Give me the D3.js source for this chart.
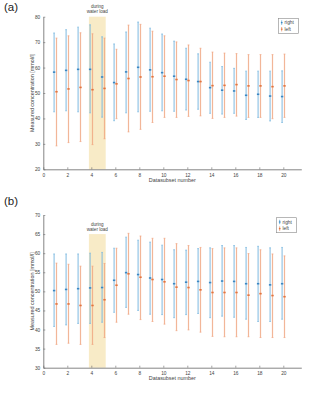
<!DOCTYPE html>
<html>
<head>
<meta charset="utf-8">
<script src="https://d3js.org/d3.v7.min.js"></script>
<style>
  body { margin: 0; background: #fff; }
  svg { display: block; font-family: "Liberation Sans", Arial, sans-serif; }
</style>
</head>
<body>
<script>
// datasubset numbers
const subsets = d3.range(1, 21);

// panel (a) values [mmol/l]
const aRightMean = [58.2, 58.9, 59.3, 59.3, 56.3, 54.1, 58.3, 60.1, 59.1, 58.0, 56.6, 55.4, 54.5, 52.1, 51.1, 50.8, 49.1, 49.5, 48.8, 48.6];
const aRightHigh = [73.6, 74.9, 75.9, 76.8, 72.1, 69.3, 74.0, 77.9, 75.5, 73.2, 70.4, 67.6, 65.4, 62.1, 60.4, 59.7, 58.6, 58.6, 58.6, 58.7];
const aRightLow  = [42.6, 43.0, 42.6, 42.2, 40.5, 39.1, 42.2, 42.6, 42.8, 43.0, 42.8, 43.3, 43.6, 42.0, 41.7, 42.0, 39.6, 40.4, 39.0, 38.4];
const aLeftMean  = [50.5, 51.6, 52.2, 51.3, 51.8, 53.6, 55.7, 56.3, 56.4, 56.6, 55.3, 54.9, 54.5, 52.9, 53.0, 53.3, 52.8, 52.8, 52.5, 52.8];
const aLeftHigh  = [71.6, 72.5, 73.7, 73.3, 71.6, 67.2, 76.7, 77.0, 74.3, 72.5, 70.1, 68.9, 67.6, 66.1, 65.7, 65.5, 65.1, 65.1, 65.1, 65.3];
const aLeftLow   = [29.2, 30.5, 30.9, 29.7, 32.0, 39.9, 34.7, 35.7, 38.4, 40.4, 40.4, 40.8, 41.0, 40.0, 40.4, 40.9, 40.4, 40.4, 39.9, 40.4];

// panel (b) values [mmol/l]
const bRightMean = [50.2, 50.5, 50.7, 50.9, 51.0, 52.9, 54.9, 54.4, 53.5, 53.1, 52.0, 52.4, 52.6, 52.3, 52.7, 52.6, 52.0, 52.0, 51.7, 52.0];
const bRightHigh = [59.8, 59.8, 59.8, 60.0, 60.2, 61.3, 64.2, 63.4, 62.9, 62.1, 60.9, 60.8, 61.2, 61.4, 62.0, 62.0, 61.5, 61.8, 61.4, 61.5];
const bRightLow  = [40.8, 41.2, 41.6, 41.6, 41.9, 44.5, 45.8, 45.0, 44.0, 43.9, 43.1, 43.9, 44.2, 43.1, 43.5, 43.2, 42.7, 42.1, 42.1, 42.7];
const bLeftMean  = [46.7, 46.7, 46.3, 46.3, 47.8, 51.6, 54.6, 53.7, 53.1, 52.5, 51.1, 51.0, 50.4, 49.7, 49.7, 49.7, 49.0, 49.4, 48.9, 48.6];
const bLeftHigh  = [57.4, 57.1, 56.6, 56.6, 57.3, 61.3, 65.2, 64.5, 63.9, 63.9, 62.5, 62.0, 61.5, 61.2, 61.4, 61.4, 59.9, 60.9, 59.8, 59.3];
const bLeftLow   = [36.1, 36.4, 36.1, 36.1, 37.9, 41.9, 44.0, 42.6, 42.1, 41.4, 39.7, 39.9, 39.3, 38.2, 38.1, 38.1, 38.1, 37.9, 37.9, 37.9];

const xTicks = d3.range(0, 21, 2);
const aYTicks = d3.range(20, 81, 10);
const bYTicks = d3.range(30, 71, 5);
const waterLoad = [3.8, 5.2];
const legendLabels = ["right", "left"];

const W = 332, H = 400;
const blue = "#7ab8e0", blueDark = "#3a86c2";
const orange = "#f0a47f", orangeDark = "#e2743f";
const axisCol = "#666", textCol = "#444";

const svg = d3.select("body").append("svg").attr("width", W).attr("height", H);

function drawPanel(p) {
  const x = d3.scaleLinear().domain([0, 21.5]).range([43.3, 301.3]);
  const y = d3.scaleLinear().domain(p.yDomain).range(p.yRange);
  const g = svg.append("g");

  // panel letter
  g.append("text").attr("x", 4).attr("y", p.letterY)
    .attr("font-size", 11.5).attr("fill", "#222").text(p.letter);

  // water load shading
  g.append("rect")
    .attr("x", x(waterLoad[0])).attr("width", x(waterLoad[1]) - x(waterLoad[0]))
    .attr("y", y(p.shadeTop)).attr("height", y(p.yDomain[0]) - y(p.shadeTop))
    .attr("fill", "#f8ebc7");
  const cx = x((waterLoad[0] + waterLoad[1]) / 2);
  g.append("text").attr("x", cx).attr("y", p.noteY)
    .attr("text-anchor", "middle").attr("font-size", 4.6).attr("fill", textCol).text("during");
  g.append("text").attr("x", cx).attr("y", p.noteY + 5.8)
    .attr("text-anchor", "middle").attr("font-size", 4.6).attr("fill", textCol).text("water load");

  // axes
  const xAxis = d3.axisBottom(x).tickValues(xTicks).tickSizeInner(-2).tickSizeOuter(0).tickPadding(4);
  const gx = g.append("g").attr("transform", `translate(0,${p.yRange[0]})`).call(xAxis);
  const yAxis = d3.axisLeft(y).tickValues(p.yTicks).tickSizeInner(-2).tickSizeOuter(0).tickPadding(3);
  const gy = g.append("g").attr("transform", `translate(${x(0)},0)`).call(yAxis);
  [gx, gy].forEach(a => {
    a.select(".domain").attr("stroke", axisCol).attr("stroke-width", 0.8);
    a.selectAll(".tick line").attr("stroke", axisCol).attr("stroke-width", 0.6);
    a.selectAll(".tick text").attr("font-size", 4.8).attr("fill", textCol)
      .attr("font-family", "Liberation Sans, Arial, sans-serif");
  });

  g.append("text").attr("x", (x(0) + x(21.5)) / 2).attr("y", p.yRange[0] + 12.5)
    .attr("text-anchor", "middle").attr("font-size", 5.4).attr("fill", textCol).text("Datasubset number");
  g.append("text")
    .attr("transform", `translate(33.5,${(p.yRange[0] + p.yRange[1]) / 2}) rotate(-90)`)
    .attr("text-anchor", "middle").attr("font-size", 5.4).attr("fill", textCol)
    .text("Measured concentration [mmol/l]");

  // error bars
  const series = [
    { mean: p.rMean, hi: p.rHigh, lo: p.rLow, dx: -0.1, col: blue, dark: blueDark },
    { mean: p.lMean, hi: p.lHigh, lo: p.lLow, dx: 0.1, col: orange, dark: orangeDark }
  ];
  series.forEach(s => {
    const sg = g.append("g");
    subsets.forEach((d, i) => {
      const px = x(d + s.dx);
      sg.append("line").attr("x1", px).attr("x2", px)
        .attr("y1", y(s.hi[i])).attr("y2", y(s.lo[i]))
        .attr("stroke", s.col).attr("stroke-width", 1.2).attr("opacity", 0.8);
      [s.hi[i], s.lo[i]].forEach(v => {
        sg.append("line").attr("x1", px - 0.9).attr("x2", px + 0.9)
          .attr("y1", y(v)).attr("y2", y(v))
          .attr("stroke", s.col).attr("stroke-width", 0.7);
      });
      sg.append("rect").attr("x", px - 1.2).attr("y", y(s.mean[i]) - 0.8)
        .attr("width", 2.4).attr("height", 1.6).attr("fill", s.dark);
    });
  });

  // legend
  const lg = g.append("g").attr("transform", `translate(${p.legend[0]},${p.legend[1]})`);
  lg.append("rect").attr("width", 20).attr("height", 15)
    .attr("fill", "#fff").attr("stroke", "#888").attr("stroke-width", 0.6);
  legendLabels.forEach((lab, i) => {
    const ly = 4.3 + i * 6.6;
    const c = i === 0 ? blue : orange;
    lg.append("line").attr("x1", 3.2).attr("x2", 3.2).attr("y1", ly - 2.2).attr("y2", ly + 2.2)
      .attr("stroke", c).attr("stroke-width", 1);
    lg.append("rect").attr("x", 2.4).attr("y", ly - 0.6).attr("width", 1.6).attr("height", 1.2)
      .attr("fill", i === 0 ? blueDark : orangeDark);
    lg.append("text").attr("x", 6).attr("y", ly + 1.7)
      .attr("font-size", 4.8).attr("fill", textCol).text(lab);
  });
}

drawPanel({
  letter: "(a)", letterY: 11,
  yDomain: [20, 80], yRange: [169.3, 16.7], yTicks: aYTicks,
  shadeTop: 80, noteY: 7.5, legend: [278.5, 18.3],
  rMean: aRightMean, rHigh: aRightHigh, rLow: aRightLow,
  lMean: aLeftMean, lHigh: aLeftHigh, lLow: aLeftLow
});

drawPanel({
  letter: "(b)", letterY: 205,
  yDomain: [30, 70], yRange: [367.7, 215], yTicks: bYTicks,
  shadeTop: 65, noteY: 225.5, legend: [276.5, 217.7],
  rMean: bRightMean, rHigh: bRightHigh, rLow: bRightLow,
  lMean: bLeftMean, lHigh: bLeftHigh, lLow: bLeftLow
});
</script>
</body>
</html>
